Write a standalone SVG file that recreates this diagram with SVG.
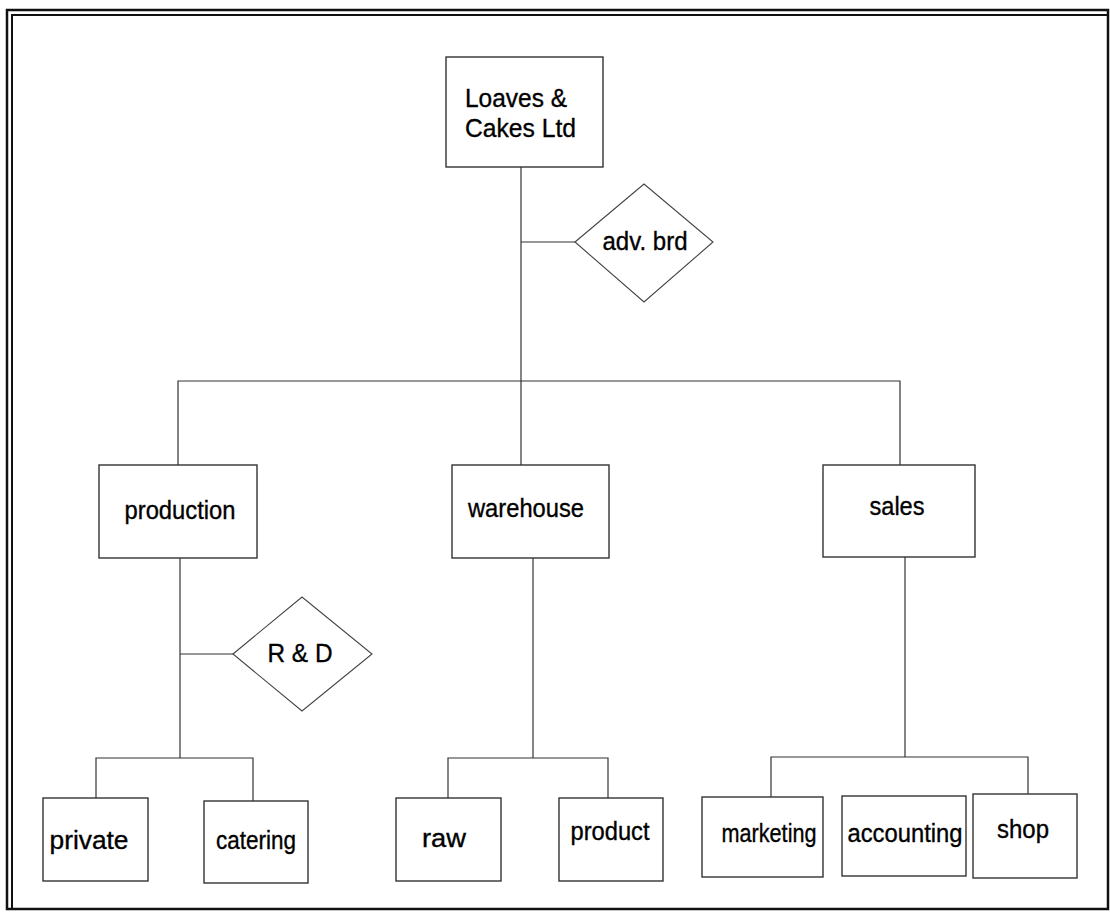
<svg xmlns="http://www.w3.org/2000/svg" width="1110" height="923" viewBox="0 0 1110 923">
  <style>
    .box { fill: #fff; stroke: #333; stroke-width: 1.4; }
    .dia { fill: #fff; stroke: #444; stroke-width: 1.1; }
    .lbl { font-family: "Liberation Sans", Arial, sans-serif; font-size: 26px; fill: #000; stroke: #000; stroke-width: 0.35; }
    .mid { text-anchor: middle; }
    #connectors path { fill: none; stroke: #333; stroke-width: 1.2; }
    .frame { fill: none; stroke: #111; }
  </style>
  <rect width="1110" height="923" fill="#fff"/>

  <!-- page frame: double rule on top and left -->
  <g id="frame">
    <rect class="frame" x="7" y="10" width="1101" height="899" stroke-width="2.5"/>
    <path class="frame" d="M12 909 V15 H1108" stroke-width="2"/>
  </g>

  <!-- connectors -->
  <g id="connectors">
    <!-- company trunk and advisory board -->
    <path d="M521 167 V465"/>
    <path d="M521 242 H575"/>
    <!-- department bar -->
    <path d="M178 465 V381 H900 V465"/>
    <!-- production branch -->
    <path d="M180 558 V758"/>
    <path d="M180 654 H233"/>
    <path d="M96 798 V758 H253 V801"/>
    <!-- warehouse branch -->
    <path d="M533 558 V758"/>
    <path d="M448 798 V758 H608 V798"/>
    <!-- sales branch -->
    <path d="M905 557 V757"/>
    <path d="M771 797 V757 H1028 V794"/>
  </g>

  <g id="company">
    <rect class="box" x="446" y="57" width="157" height="110"/>
    <text class="lbl" x="465" y="107" textLength="102" lengthAdjust="spacingAndGlyphs">Loaves &amp;</text>
    <text class="lbl" x="465" y="137" textLength="111" lengthAdjust="spacingAndGlyphs">Cakes Ltd</text>
  </g>

  <g id="advisory-board">
    <polygon class="dia" points="575,242 644,184 713,242 644,302"/>
    <text class="lbl mid" x="645" y="250" textLength="85" lengthAdjust="spacingAndGlyphs">adv. brd</text>
  </g>

  <g id="production">
    <rect class="box" x="99" y="465" width="158" height="93"/>
    <text class="lbl mid" x="180" y="519" textLength="111" lengthAdjust="spacingAndGlyphs">production</text>
  </g>

  <g id="warehouse">
    <rect class="box" x="452" y="465" width="157" height="93"/>
    <text class="lbl mid" x="526" y="517" textLength="116" lengthAdjust="spacingAndGlyphs">warehouse</text>
  </g>

  <g id="sales">
    <rect class="box" x="823" y="465" width="152" height="92"/>
    <text class="lbl mid" x="897" y="515" textLength="55" lengthAdjust="spacingAndGlyphs">sales</text>
  </g>

  <g id="research">
    <polygon class="dia" points="233,654 302,597 372,654 302,711"/>
    <text class="lbl mid" x="300" y="662" textLength="65" lengthAdjust="spacingAndGlyphs">R &amp; D</text>
  </g>

  <g id="private">
    <rect class="box" x="43" y="798" width="105" height="83"/>
    <text class="lbl mid" x="89" y="849" textLength="79" lengthAdjust="spacingAndGlyphs">private</text>
  </g>

  <g id="catering">
    <rect class="box" x="204" y="801" width="104" height="82"/>
    <text class="lbl mid" x="256" y="849" textLength="80" lengthAdjust="spacingAndGlyphs">catering</text>
  </g>

  <g id="raw">
    <rect class="box" x="396" y="798" width="105" height="83"/>
    <text class="lbl mid" x="444" y="847" textLength="44" lengthAdjust="spacingAndGlyphs">raw</text>
  </g>

  <g id="product">
    <rect class="box" x="559" y="798" width="104" height="83"/>
    <text class="lbl mid" x="610" y="840" textLength="79" lengthAdjust="spacingAndGlyphs">product</text>
  </g>

  <g id="marketing">
    <rect class="box" x="702" y="797" width="121" height="80"/>
    <text class="lbl mid" x="769" y="842" textLength="95" lengthAdjust="spacingAndGlyphs">marketing</text>
  </g>

  <g id="accounting">
    <rect class="box" x="842" y="796" width="124" height="80"/>
    <text class="lbl mid" x="905" y="842" textLength="115" lengthAdjust="spacingAndGlyphs">accounting</text>
  </g>

  <g id="shop">
    <rect class="box" x="973" y="794" width="104" height="84"/>
    <text class="lbl mid" x="1023" y="838" textLength="52" lengthAdjust="spacingAndGlyphs">shop</text>
  </g>
</svg>
